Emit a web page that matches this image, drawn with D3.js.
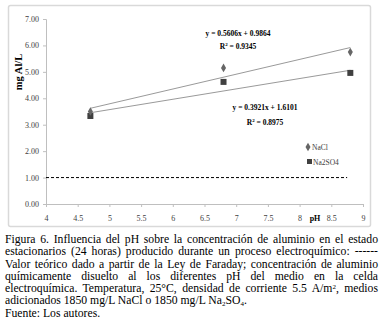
<!DOCTYPE html>
<html>
<head>
<meta charset="utf-8">
<script src="https://cdn.jsdelivr.net/npm/d3@7"></script>
<style>
  body { margin: 0; background: #fff; width: 382px; height: 332px; position: relative; overflow: hidden; }
  svg { position: absolute; left: 0; top: 0; }
  #caption { position: absolute; left: 5px; top: 234px; width: 373px;
             font-family: "Liberation Serif", "Times New Roman", serif; font-size: 11.7px;
             line-height: 12.3px; color: #000; }
  #caption div.j { text-align: justify; text-align-last: justify; white-space: nowrap; }
  #caption div.l { text-align: left; white-space: nowrap; }
  sup, sub { font-size: 7px; line-height: 0; vertical-align: baseline; position: relative; }
  sup { top: -3.5px; }
  sub { top: 2px; }
</style>
</head>
<body>
<div id="caption"></div>
<script>
// data
const phValues     = [4.7, 6.8, 8.8];
const naclValues   = [3.5, 5.15, 5.75];
const na2so4Values = [3.33, 4.62, 4.96];
const seriesNames  = ['NaCl', 'Na2SO4'];
const trendSlope     = [0.5606, 0.3921];
const trendIntercept = [0.9864, 1.6101];
const trendR2        = ['0.9345', '0.8975'];
const faradayValue = 1.0;
const faradayRange = [4, 8.75];
const yTicks = [0, 1, 2, 3, 4, 5, 6, 7];
const xTicks = [4, 4.5, 5, 5.5, 6, 6.5, 7, 7.5, 8, 8.5, 9];

const captionLines = [
  ['j', 'Figura 6. Influencia del pH sobre la concentración de aluminio en el estado'],
  ['j', 'estacionarios (24 horas) producido durante un proceso electroquímico: ------'],
  ['j', 'Valor teórico dado a partir de la Ley de Faraday; concentración de aluminio'],
  ['j', 'químicamente disuelto al los diferentes pH del medio en la celda'],
  ['j', 'electroquímica. Temperatura, 25°C, densidad de corriente 5.5 A/m<sup>2</sup>, medios'],
  ['l', 'adicionados 1850 mg/L NaCl o 1850 mg/L Na<sub>2</sub>SO<sub>4</sub>.'],
  ['l', 'Fuente: Los autores.']
];

const width  = 382;
const height = 332;
const serif  = '"Liberation Serif", "Times New Roman", serif';

const svg = d3.select('body').append('svg')
      .attr('width', width)
      .attr('height', height);

// chart frame
svg.append('rect')
  .attr('x', 8.5).attr('y', 5.5)
  .attr('width', 362).attr('height', 221)
  .attr('rx', 2)
  .attr('fill', '#fff')
  .attr('stroke', '#d9d9d9')
  .attr('stroke-width', 1.5);

const x = d3.scaleLinear().domain([4, 9]).range([46, 363]);
const y = d3.scaleLinear().domain([0, 7]).range([204, 19]);

const yAxis = svg.append('g')
  .attr('transform', 'translate(' + x(4) + ',0)')
  .call(d3.axisLeft(y).tickValues(yTicks).tickFormat(d3.format('.2f')).tickSize(3).tickPadding(4));

const xAxis = svg.append('g')
  .attr('transform', 'translate(0,' + y(0) + ')')
  .call(d3.axisBottom(x).tickValues(xTicks).tickFormat(d => d).tickSize(3).tickPadding(8));

[xAxis, yAxis].forEach(a => {
  a.attr('font-family', serif);
  a.select('.domain').attr('stroke', '#bfbfbf');
  a.selectAll('.tick line').attr('stroke', '#bfbfbf');
  a.selectAll('.tick text')
    .attr('font-family', serif)
    .attr('font-size', 8)
    .attr('fill', '#404040');
});

// axis titles
svg.append('text')
  .attr('transform', 'translate(22,72) rotate(-90)')
  .attr('text-anchor', 'middle')
  .attr('font-family', serif)
  .attr('font-weight', 'bold')
  .attr('font-size', 10.5)
  .text('mg Al/L');

svg.append('text')
  .attr('x', 315).attr('y', 221)
  .attr('text-anchor', 'middle')
  .attr('font-family', serif)
  .attr('font-weight', 'bold')
  .attr('font-size', 8)
  .text('pH');

// Faraday theoretical value
svg.append('line')
  .attr('x1', x(faradayRange[0])).attr('x2', x(faradayRange[1]))
  .attr('y1', y(faradayValue)).attr('y2', y(faradayValue))
  .attr('stroke', '#000')
  .attr('stroke-width', 1)
  .attr('stroke-dasharray', '3,2');

// trend lines
const xMin = d3.min(phValues), xMax = d3.max(phValues);
trendSlope.forEach((m, i) => {
  const b = trendIntercept[i];
  svg.append('line')
    .attr('x1', x(xMin)).attr('y1', y(m * xMin + b))
    .attr('x2', x(xMax)).attr('y2', y(m * xMax + b))
    .attr('stroke', '#7f7f7f')
    .attr('stroke-width', 0.8);
});

const diamond = d3.symbol().type(d3.symbolDiamond).size(22);

// Na2SO4 squares
svg.selectAll('.sq')
  .data(phValues.map((p, i) => [p, na2so4Values[i]]))
  .enter().append('rect')
  .attr('class', 'sq')
  .attr('x', d => x(d[0]) - 3).attr('y', d => y(d[1]) - 3)
  .attr('width', 6).attr('height', 6)
  .attr('fill', '#404040');

// NaCl diamonds
svg.selectAll('.dm')
  .data(phValues.map((p, i) => [p, naclValues[i]]))
  .enter().append('path')
  .attr('class', 'dm')
  .attr('d', diamond)
  .attr('transform', d => 'translate(' + x(d[0]) + ',' + y(d[1]) + ')')
  .attr('fill', '#666');

// equation labels
const eqPos = [[238, 36, 49], [265, 110, 125]];
trendSlope.forEach((m, i) => {
  const g = svg.append('g')
    .attr('font-family', serif)
    .attr('font-weight', 'bold')
    .attr('font-size', 7.5)
    .attr('text-anchor', 'middle');
  g.append('text')
    .attr('x', eqPos[i][0]).attr('y', eqPos[i][1])
    .text('y = ' + m.toFixed(4) + 'x + ' + trendIntercept[i].toFixed(4));
  const r = g.append('text')
    .attr('x', eqPos[i][0]).attr('y', eqPos[i][2]);
  r.append('tspan').text('R');
  r.append('tspan').attr('dy', -3).attr('font-size', 5).text('2');
  r.append('tspan').attr('dy', 3).text(' = ' + trendR2[i]);
});

// legend
const legend = svg.append('g')
  .attr('font-family', serif)
  .attr('font-size', 7.5)
  .attr('fill', '#404040');
legend.append('path')
  .attr('d', diamond)
  .attr('transform', 'translate(308,147)')
  .attr('fill', '#666');
legend.append('text').attr('x', 312).attr('y', 150).text(seriesNames[0]);
legend.append('rect')
  .attr('x', 307).attr('y', 159).attr('width', 5).attr('height', 5)
  .attr('fill', '#404040');
legend.append('text').attr('x', 313).attr('y', 165).text(seriesNames[1]);

// caption
d3.select('#caption').selectAll('div')
  .data(captionLines)
  .enter().append('div')
  .attr('class', d => d[0])
  .html(d => d[1]);
</script>
</body>
</html>
